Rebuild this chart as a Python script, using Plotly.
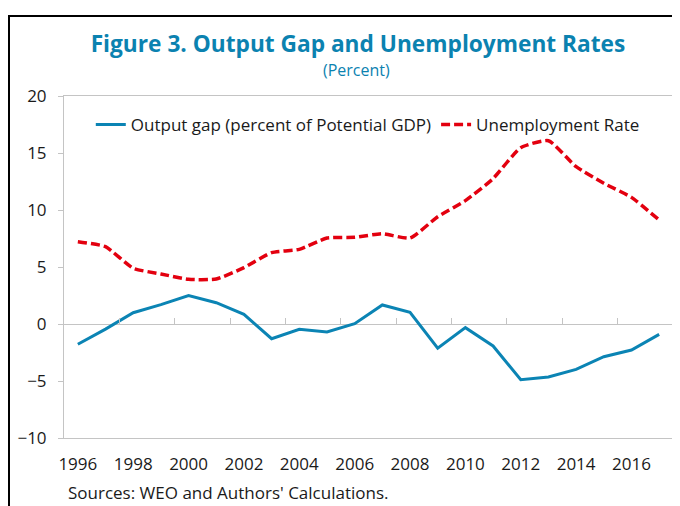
import plotly.graph_objects as go

# Datos (porcentaje)
years = list(range(1996, 2018))
output_gap = [-1.78, -0.45, 0.99, 1.7, 2.49, 1.87, 0.85, -1.29, -0.47, -0.7, 0.03,
              1.67, 1.02, -2.13, -0.32, -1.93, -4.88, -4.65, -3.98, -2.87, -2.28, -0.91]
unemployment = [7.22, 6.78, 4.89, 4.39, 3.92, 3.95, 4.94, 6.26, 6.55, 7.54, 7.6,
                7.92, 7.54, 9.41, 10.82, 12.75, 15.47, 16.08, 13.8, 12.34, 11.11, 9.12]
label_years = list(range(1996, 2017, 2))
year_labels = [str(y) for y in label_years]
boundary_ticks = [y + 0.5 for y in range(1997, 2016, 2)]

FONT = "Open Sans"
BLUE = "#0b84b4"
RED = "#e3000f"
TITLE = "#0b82b0"
GRAY = "#c4c4c4"

# la página deja 8px de margen en el body
W, H, OFF = 672, 498, 8

fig = go.Figure()
fig.add_trace(go.Scatter(
    x=years, y=output_gap, mode="lines",
    name="Output gap (percent of Potential GDP)",
    line=dict(color=BLUE, width=3)
))
fig.add_trace(go.Scatter(
    x=years, y=unemployment, mode="lines",
    name="Unemployment Rate",
    line=dict(color=RED, width=3.5, dash="9px,4px", shape="spline", smoothing=0.5)
))
# referencia para que xaxis2 dibuje sus marcas
fig.add_trace(go.Scatter(x=[1995.5], y=[0], xaxis="x2", mode="markers",
                         marker=dict(opacity=0), showlegend=False, hoverinfo="skip"))

fig.update_layout(
    width=W, height=H,
    margin=dict(l=64 - OFF, r=7, t=96 - OFF, b=68),
    paper_bgcolor="white", plot_bgcolor="white",
    font=dict(family=FONT, size=17, color="#1a1a1a"),
    title=dict(
        text="<b>Figure 3. Output Gap and Unemployment Rates</b>",
        font=dict(family=FONT, size=22.7, color=TITLE),
        x=(358 - OFF) / W, xanchor="center", y=1 - (44 - OFF) / H, yanchor="middle"
    ),
    showlegend=True,
    legend=dict(
        orientation="h", x=0.044, xanchor="left", y=0.915, yanchor="middle",
        bgcolor="rgba(0,0,0,0)", font=dict(size=17)
    ),
    xaxis=dict(
        range=[1995.5, 2017.5], tickvals=label_years, ticktext=year_labels,
        ticks="", showgrid=False, zeroline=False,
        showline=True, linecolor=GRAY, linewidth=1, mirror=True,
        ticklabelstandoff=11
    ),
    xaxis2=dict(
        range=[1995.5, 2017.5], overlaying="x", anchor="free", position=1 / 3,
        side="bottom", tickvals=boundary_ticks, ticks="inside", ticklen=6,
        tickcolor=GRAY, showticklabels=False, showgrid=False, zeroline=False,
        showline=False
    ),
    yaxis=dict(
        range=[-10, 20], dtick=5, ticks="outside", ticklen=5, tickcolor=GRAY,
        showgrid=False, zeroline=True, zerolinecolor=GRAY, zerolinewidth=1,
        showline=True, linecolor=GRAY, linewidth=1, mirror=True,
        ticklabelstandoff=8
    ),
)

fig.add_annotation(text="(Percent)", xref="paper", yref="paper",
                   x=0.481, y=(438 - 70) / 342, xanchor="center", yanchor="middle",
                   showarrow=False, font=dict(size=16, color=TITLE))
fig.add_annotation(text="Sources: WEO and Authors' Calculations.", xref="paper", yref="paper",
                   x=0.004, y=(438 - 493) / 342, xanchor="left", yanchor="middle",
                   showarrow=False, font=dict(size=17))

# marco negro
fig.add_shape(type="rect", xref="paper", yref="paper",
              x0=(9 - 64) / 609, x1=1.3, y0=-0.5, y1=(438 - 16) / 342,
              line=dict(color="black", width=2), layer="below")

fig.write_html("out.html")
